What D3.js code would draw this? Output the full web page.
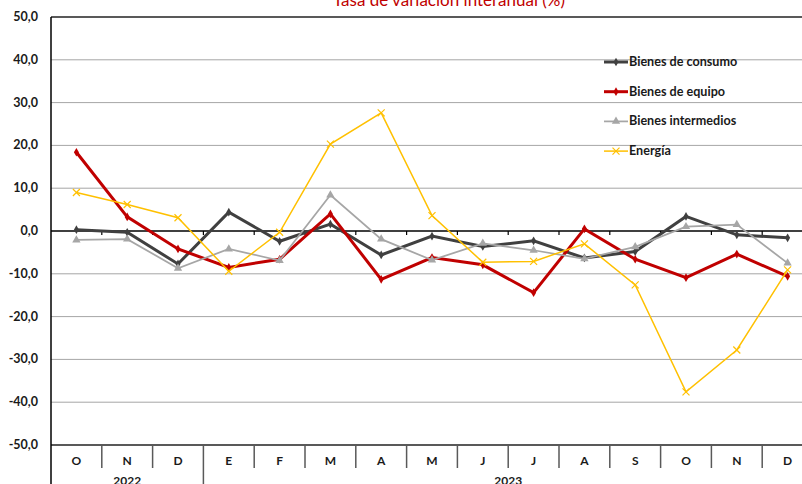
<!DOCTYPE html>
<html>
<head>
<meta charset="utf-8">
<script src="https://cdn.jsdelivr.net/npm/d3@7"></script>
<style>
  body { margin: 0; background: #fff; }
  svg { display: block; font-family: Lato, 'Open Sans', sans-serif; }
</style>
</head>
<body>
<div id="svgDiv"></div>
<script>
// months and years on the x axis
const months = ['O', 'N', 'D', 'E', 'F', 'M', 'A', 'M', 'J', 'J', 'A', 'S', 'O', 'N', 'D']
const years = [{label: '2022', from: 0, to: 3}, {label: '2023', from: 3, to: 15}]
const yTicks = [50, 40, 30, 20, 10, 0, -10, -20, -30, -40, -50]

// series values (% interannual)
const consumo = [0.3, -0.3, -7.7, 4.4, -2.4, 1.6, -5.6, -1.2, -3.6, -2.3, -6.3, -4.8, 3.4, -0.9, -1.6]
const equipo = [18.4, 3.3, -4.2, -8.5, -6.6, 4.0, -11.3, -6.2, -7.9, -14.4, 0.5, -6.6, -10.9, -5.4, -10.6]
const intermedios = [-2.1, -1.9, -8.7, -4.2, -6.9, 8.4, -1.9, -6.8, -2.9, -4.5, -6.5, -3.7, 1.0, 1.5, -7.5]
const energia = [9.0, 6.2, 3.1, -9.4, -0.3, 20.3, 27.6, 3.6, -7.3, -7.1, -3.0, -12.6, -37.6, -27.8, -9.1]

const series = [
    {name: 'Bienes de consumo', values: consumo, color: '#404040', width: 3, marker: 'diamond', size: 22},
    {name: 'Bienes de equipo', values: equipo, color: '#c00000', width: 3, marker: 'diamond', size: 22},
    {name: 'Bienes intermedios', values: intermedios, color: '#a6a6a6', width: 1.75, marker: 'triangle', size: 30},
    {name: 'Energía', values: energia, color: '#ffc000', width: 1.5, marker: 'cross', size: 0}
]

const width = 802, height = 484
const plot = {left: 51, right: 813, top: 17, bottom: 445}

const svg = d3.select('#svgDiv')
    .append('svg')
        .attr('width', width)
        .attr('height', height)

const x = d3.scaleBand()
    .domain(d3.range(months.length))
    .range([plot.left, plot.right])
    .padding(0)

const y = d3.scaleLinear()
    .domain([-50, 50])
    .range([plot.bottom, plot.top])

// gridlines
svg.append('g')
    .selectAll('line')
    .data(yTicks.filter(d => d != 0 && d != 50 && d != -50))
    .join('line')
    .attr('x1', plot.left).attr('x2', plot.right)
    .attr('y1', d => y(d)).attr('y2', d => y(d))
    .style('stroke', '#a6a6a6')
    .style('stroke-width', 1)

// top border
svg.append('line')
    .attr('x1', plot.left).attr('x2', plot.right)
    .attr('y1', y(50)).attr('y2', y(50))
    .style('stroke', '#595959').style('stroke-width', 2)

// bottom border
svg.append('line')
    .attr('x1', plot.left).attr('x2', plot.right)
    .attr('y1', y(-50)).attr('y2', y(-50))
    .style('stroke', '#595959').style('stroke-width', 2)

// y axis
svg.append('line')
    .attr('x1', plot.left).attr('x2', plot.left)
    .attr('y1', plot.top).attr('y2', height)
    .style('stroke', '#000').style('stroke-width', 1.5)

svg.append('g')
    .selectAll('text')
    .data(yTicks)
    .join('text')
    .attr('x', 38)
    .attr('y', d => y(d) + 4)
    .attr('text-anchor', 'end')
    .style('font-size', '12.5px')
    .style('font-weight', 'bold')
    .style('fill', '#1a1a1a')
    .text(d => d3.format('.1f')(d).replace('.', ',').replace('−', '-'))

// zero line with ticks at category boundaries
svg.append('line')
    .attr('x1', plot.left).attr('x2', plot.right)
    .attr('y1', y(0)).attr('y2', y(0))
    .style('stroke', '#000').style('stroke-width', 1.5)

svg.append('g')
    .selectAll('line')
    .data(d3.range(1, months.length))
    .join('line')
    .attr('x1', d => x(d)).attr('x2', d => x(d))
    .attr('y1', y(0)).attr('y2', y(0) + 4)
    .style('stroke', '#000').style('stroke-width', 1.2)

// category table below the plot
svg.append('g')
    .selectAll('line')
    .data(d3.range(1, months.length))
    .join('line')
    .attr('x1', d => x(d)).attr('x2', d => x(d))
    .attr('y1', plot.bottom)
    .attr('y2', d => years.some(yr => yr.from == d) ? height : plot.bottom + 23)
    .style('stroke', '#595959').style('stroke-width', 1.5)

svg.append('g')
    .selectAll('text')
    .data(months)
    .join('text')
    .attr('x', (d, i) => x(i) + x.bandwidth() / 2)
    .attr('y', plot.bottom + 20)
    .attr('text-anchor', 'middle')
    .style('font-size', '12px')
    .style('font-weight', 'bold')
    .style('fill', '#1a1a1a')
    .text(d => d)

svg.append('g')
    .selectAll('text')
    .data(years)
    .join('text')
    .attr('x', d => (x(d.from) + (d.to < months.length ? x(d.to) : plot.right)) / 2)
    .attr('y', plot.bottom + 40)
    .attr('text-anchor', 'middle')
    .style('font-size', '12px')
    .style('font-weight', 'bold')
    .style('fill', '#1a1a1a')
    .text(d => d.label)

// title (cut at top as in the original)
svg.append('text')
    .attr('x', 449)
    .attr('y', 5.5)
    .attr('text-anchor', 'middle')
    .style('font-size', '17px')
    .style('fill', '#c00000')
    .text('Tasa de variación interanual (%)')

// lines and markers
const line = d3.line()
    .x((d, i) => x(i) + x.bandwidth() / 2)
    .y(d => y(d))

function drawMarker(g, s, cx, cy){
    if(s.marker == 'cross'){
        g.append('path')
            .attr('d', 'M' + (cx - 3.5) + ',' + (cy - 3.5) + 'L' + (cx + 3.5) + ',' + (cy + 3.5)
                + 'M' + (cx - 3.5) + ',' + (cy + 3.5) + 'L' + (cx + 3.5) + ',' + (cy - 3.5))
            .style('stroke', s.color)
            .style('stroke-width', 1.2)
    } else {
        const sym = s.marker == 'diamond' ? d3.symbolDiamond : d3.symbolTriangle
        g.append('path')
            .attr('d', d3.symbol().type(sym).size(s.size))
            .attr('transform', 'translate(' + cx + ',' + cy + ')')
            .style('fill', s.color)
    }
}

series.forEach(function(s){
    const g = svg.append('g')
    g.append('path')
        .datum(s.values)
        .attr('d', line)
        .style('fill', 'none')
        .style('stroke', s.color)
        .style('stroke-width', s.width)
        .style('stroke-linejoin', 'miter')
    s.values.forEach((v, i) => drawMarker(g, s, x(i) + x.bandwidth() / 2, y(v)))
})

// legend
const legend = svg.append('g')
series.forEach(function(s, i){
    const ly = 62 + i * 29.7
    legend.append('line')
        .attr('x1', 604).attr('x2', 628)
        .attr('y1', ly).attr('y2', ly)
        .style('stroke', s.color)
        .style('stroke-width', s.width)
    drawMarker(legend, s, 616, ly)
    legend.append('text')
        .attr('x', 629)
        .attr('y', ly + 4)
        .style('font-size', '12.6px')
        .style('font-weight', 'bold')
        .style('fill', '#1a1a1a')
        .text(s.name)
})
</script>
</body>
</html>
